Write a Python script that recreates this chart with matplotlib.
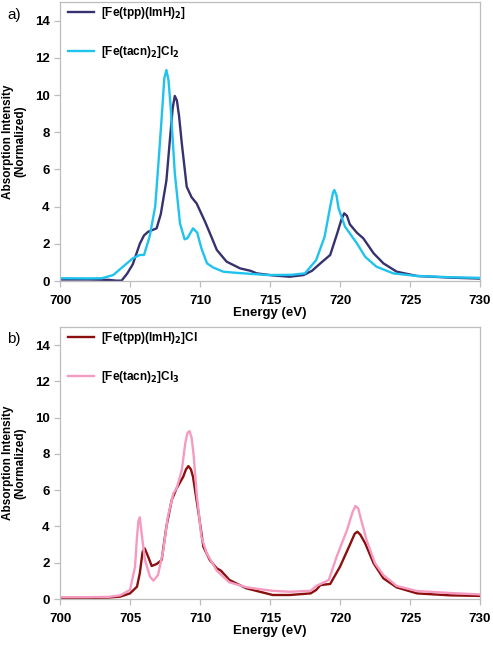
import numpy as np
import matplotlib
matplotlib.use("Agg")
import matplotlib.pyplot as plt

plt.rcParams['font.family'] = ['Liberation Sans', 'DejaVu Sans']
plt.rcParams['mathtext.default'] = 'bf'

# Panel a: Fe(II) complexes
e_tpp = [700, 702, 703.5, 704.0, 704.4, 704.8, 705.2, 705.7, 706.0, 706.3, 706.9, 707.2, 707.6,
         707.85, 708.05, 708.2, 708.35, 708.5, 708.7, 709.05, 709.4, 709.76, 710.36, 710.8, 711.2,
         711.9, 712.86, 713.6, 714.05, 715.2, 716.4, 717.4, 718.0, 718.6, 719.3, 719.8, 720.1,
         720.3, 720.5, 720.7, 721.2, 721.67, 722.4, 723.1, 724.05, 725.5, 727.9, 730]
i_tpp = [0.08, 0.08, 0.06, 0.02, 0.02, 0.4, 0.9, 2.0, 2.45, 2.65, 2.83, 3.6, 5.4,
         7.6, 9.3, 9.95, 9.7, 8.9, 7.4, 5.07, 4.5, 4.17, 3.19, 2.4, 1.67,
         1.04, 0.68, 0.55, 0.41, 0.3, 0.23, 0.32, 0.55, 0.95, 1.4, 2.56, 3.3,
         3.64, 3.5, 3.05, 2.6, 2.29, 1.49, 0.95, 0.5, 0.27, 0.18, 0.13]

e_tacn = [700, 702, 703, 703.8, 704.5, 705.2, 705.7, 706.0, 706.4, 706.8, 707.1, 707.3, 707.45,
          707.6, 707.75, 707.9, 708.2, 708.57, 708.9, 709.1, 709.5, 709.8, 710.1, 710.5, 710.95,
          711.67, 712.4, 714.8, 716.5, 717.5, 718.3, 718.9, 719.3, 719.5, 719.6, 719.75, 719.9,
          720.36, 721.2, 721.8, 722.6, 723.8, 725.5, 728, 730]
i_tacn = [0.15, 0.14, 0.15, 0.32, 0.77, 1.22, 1.4, 1.4, 2.38, 4.0, 7.04, 9.2, 10.9,
          11.34, 10.8, 9.4, 5.8, 3.1, 2.24, 2.3, 2.83, 2.6, 1.76, 0.95, 0.72,
          0.5, 0.45, 0.32, 0.33, 0.41, 1.13, 2.38, 4.0, 4.75, 4.89, 4.6, 3.9,
          2.92, 2.03, 1.3, 0.77, 0.41, 0.27, 0.2, 0.17]

# Panel b: Fe(III) complexes
e_tppcl = [700, 702, 703.5, 704.3, 705, 705.5, 705.7, 705.9, 706.05, 706.3, 706.55, 706.9, 707.26,
           707.6, 707.98, 708.33, 708.8, 709.0, 709.17, 709.35, 709.5, 709.9, 710.24, 710.7, 711.2,
           711.5, 712.1, 713.3, 715.2, 716.4, 717.9, 718.3, 718.6, 719.3, 720, 720.7, 721.05,
           721.24, 721.45, 721.8, 722.4, 723.1, 724.05, 725.5, 727.9, 730]
i_tppcl = [0.05, 0.06, 0.08, 0.13, 0.31, 0.68, 1.42, 2.6, 2.79, 2.33, 1.82, 1.93, 2.15,
           3.99, 5.46, 6.1, 6.74, 7.15, 7.33, 7.15, 6.74, 4.72, 2.88, 2.15, 1.69,
           1.56, 1.05, 0.59, 0.22, 0.22, 0.31, 0.5, 0.77, 0.83, 1.78, 2.98, 3.6,
           3.71, 3.55, 3.07, 1.97, 1.14, 0.64, 0.31, 0.2, 0.17]

e_tacncl = [700, 702, 703.5, 704.3, 705, 705.36, 705.5, 705.6, 705.7, 705.83, 706.07, 706.43, 706.67,
            707.0, 707.38, 707.7, 708.1, 708.33, 708.7, 708.95, 709.1, 709.25, 709.4, 709.55, 709.76,
            710.1, 710.48, 711.2, 712.1, 713.3, 714.2, 715.2, 716.4, 717.9, 718.3, 718.7, 719.2,
            719.76, 720.5, 720.9, 721.1, 721.3, 721.5, 721.9, 722.5, 723.1, 724.05, 725.5, 727.9, 730]
i_tacncl = [0.1, 0.1, 0.12, 0.2, 0.5, 1.78, 3.43, 4.3, 4.5, 3.62, 2.15, 1.23, 1.01,
            1.32, 2.7, 4.54, 5.83, 6.1, 7.11, 8.6, 9.15, 9.26, 8.9, 7.9, 5.83,
            3.43, 2.52, 1.56, 0.92, 0.65, 0.55, 0.45, 0.4, 0.45, 0.72, 0.86, 1.05,
            2.33, 3.8, 4.8, 5.13, 5.0, 4.4, 3.25, 1.97, 1.32, 0.72, 0.44, 0.33, 0.25]

fig = plt.figure(figsize=(4.93, 6.46), dpi=100)
W, H = 493, 646
ax_a = fig.add_axes([60 / W, 1 - 281 / H, 420 / W, 279 / H])
ax_b = fig.add_axes([60 / W, 1 - 599 / H, 420 / W, 272 / H])

panels = [
    (ax_a, [(e_tpp, i_tpp, '#36316f', r'[Fe(tpp)(ImH)$_2$]'),
            (e_tacn, i_tacn, '#1fc3ee', r'[Fe(tacn)$_2$]Cl$_2$')], 'a)'),
    (ax_b, [(e_tppcl, i_tppcl, '#8c0f0f', r'[Fe(tpp)(ImH)$_2$]Cl'),
            (e_tacncl, i_tacncl, '#f59bc2', r'[Fe(tacn)$_2$]Cl$_3$')], 'b)'),
]

for ax, series, tag in panels:
    for e, inten, col, lab in series:
        ax.plot(e, inten, color=col, lw=1.7, label=lab, solid_joinstyle='round')
    ax.set_xlim(700, 730)
    ax.set_ylim(0, 15)
    ax.set_xticks(range(700, 731, 5))
    ax.set_yticks(range(0, 15, 2))
    for s in ax.spines.values():
        s.set_color('#bdbdbd')
        s.set_linewidth(0.9)
    ax.tick_params(colors='#bdbdbd', labelcolor='black', length=4, width=0.9,
                   labelsize=9.5)
    ax.tick_params(axis='x', pad=6)
    for t in ax.get_xticklabels() + ax.get_yticklabels():
        t.set_fontweight('bold')
    ax.set_xlabel('Energy (eV)', fontsize=9.5, fontweight='bold', labelpad=0)
    ax.set_ylabel('Absorption Intensity\n(Normalized)', fontsize=8.5,
                  fontweight='bold', labelpad=6, linespacing=1.0)
    leg = ax.legend(loc='upper left', bbox_to_anchor=(0.0, 1.02), frameon=False,
                    fontsize=8.5, handlelength=2.2, labelspacing=2.0,
                    borderaxespad=0.3, handletextpad=0.6)
    for t in leg.get_texts():
        t.set_fontweight('bold')
    ax.text(-0.125, 0.955, tag, transform=ax.transAxes, fontsize=11,
            ha='left', va='center')

fig.savefig('out.png', dpi=100)
